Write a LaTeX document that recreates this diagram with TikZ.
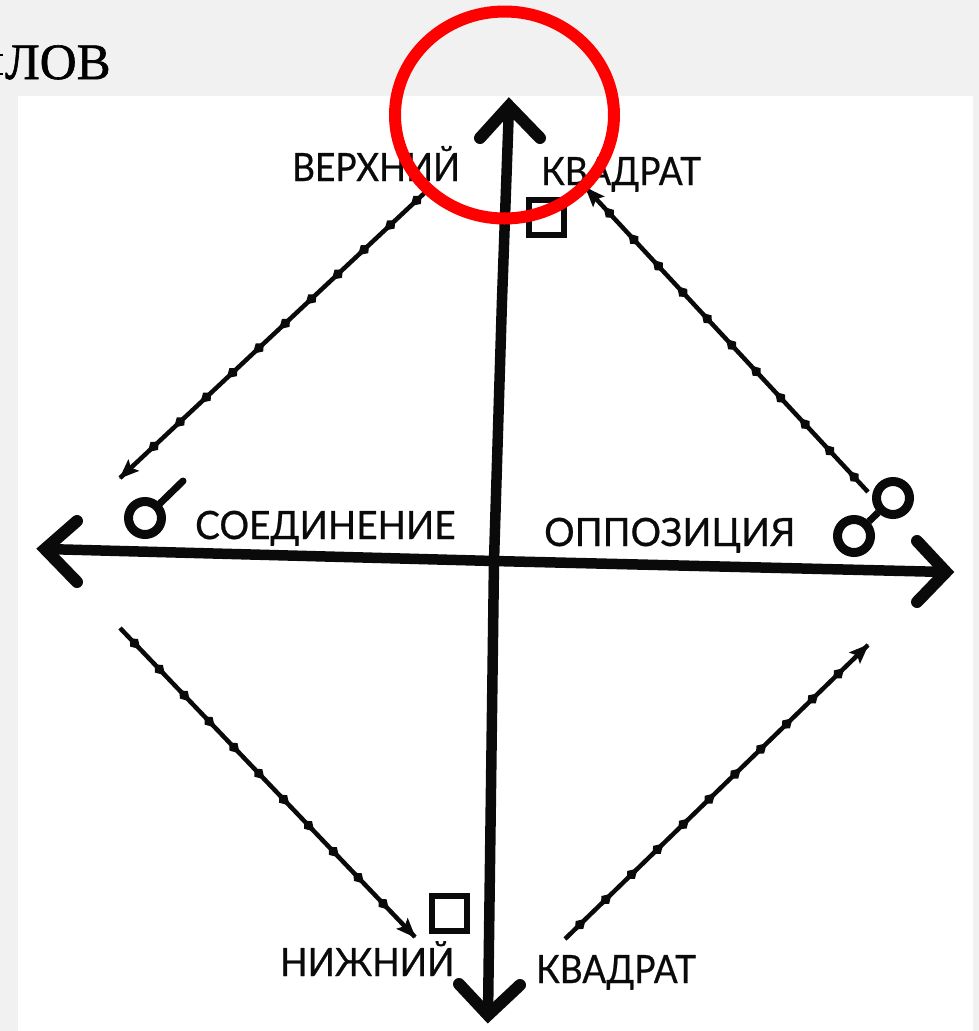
\documentclass[tikz,border=0pt]{standalone}
\usepackage{fontspec}
\setmainfont{Lato}
\newfontfamily\labfont[FakeBold=0.6]{Lato}
\newfontfamily\titlefont[FakeBold=1.2]{Liberation Serif}
\usetikzlibrary{arrows.meta,decorations.markings,shapes.geometric}
\definecolor{pagegray}{HTML}{F1F1F1}
\definecolor{ink}{HTML}{0A0A0A}
\definecolor{ringred}{HTML}{FF0000}
\tikzset{
  x=1pt,y=-1pt,
  axisline/.style={draw=ink,line width=10.5pt},
  arm/.style={draw=ink,line width=12pt,line cap=round,line join=miter},
  flow/.style={draw=ink,line width=4.5pt,postaction={decorate},
    decoration={markings,
      mark=between positions 0.05 and 0.97 step 36pt with {\fill[ink] (8,0) -- (-1,5.5) -- (-7,0) -- (-1,-5.5) -- cycle;},
      mark=at position 1 with {\fill[ink] (1,0) -- (-19,8) -- (-15,0) -- (-19,-8) -- cycle;}}},
  label/.style={font=\labfont\fontsize{39}{39}\selectfont,text=ink,inner sep=0pt,anchor=base west,transform shape},
  glyphring/.style={circle,draw=ink,line width=9pt,minimum size=33pt,inner sep=0pt},
  glyphsq/.style={rectangle,draw=ink,line width=6pt,minimum size=35pt,inner sep=0pt},
}
\begin{document}
\begin{tikzpicture}
\useasboundingbox (0,0) rectangle (979,1031);
\fill[pagegray] (0,0) rectangle (979,1031);
\fill[white] (18,96) rectangle (973,1031);

% title fragment
\fill[black] (0,54) rectangle (2.5,56);
\fill[black] (0,73) rectangle (2.5,75);
\node[font=\titlefont\fontsize{51}{51}\selectfont,text=black,inner sep=0pt,anchor=base west] (title) at (5,79) {ЛОВ};

% axis end points
\coordinate (top) at (509,106);
\coordinate (bot) at (488,1015);
\coordinate (lft) at (45,549);
\coordinate (rgt) at (946,572);
\coordinate (mid) at (494,561);

\draw[axisline] (top) -- (502,300) -- (mid) -- (bot);
\draw[axisline] (lft) -- (mid) -- (rgt);

\coordinate (ta) at (480,138); \coordinate (tb) at (540,138);
\coordinate (la) at (77,521);  \coordinate (lb) at (77,582);
\coordinate (ra) at (917,541); \coordinate (rb) at (917,602);
\coordinate (da) at (459,984); \coordinate (db) at (520,985);
\draw[arm] (ta) -- (top) -- (tb);
\draw[arm] (la) -- (lft) -- (lb);
\draw[arm] (ra) -- (rgt) -- (rb);
\draw[arm] (da) -- (bot) -- (db);

% flow diagonals
\coordinate (d1s) at (432,186); \coordinate (d1e) at (120,478);
\coordinate (d2s) at (120,628); \coordinate (d2e) at (415,937);
\coordinate (d3s) at (565,939); \coordinate (d3e) at (868,645);
\coordinate (d4s) at (868,492); \coordinate (d4e) at (586,188);
\draw[flow] (d1s) -- (d1e);
\draw[flow] (d2s) -- (d2e);
\draw[flow] (d3s) -- (d3e);
\draw[flow] (d4s) -- (d4e);

% aspect glyphs
\node[glyphsq] (sqtop) at (546,217.5) {};
\node[glyphsq] (sqbot) at (449,913) {};
\node[glyphring] (conj) at (145,518) {};
\coordinate (conjend) at (183,481);
\draw[draw=ink,line width=7pt,line cap=round] (conj) -- (conjend);
\node[glyphring] (opp1) at (893,498) {};
\node[glyphring] (opp2) at (854,536) {};
\draw[draw=ink,line width=7pt] (opp1) -- (opp2);

% labels
\node[label,xscale=0.905] (l1) at (292,181) {ВЕРХНИЙ};
\node[label,xscale=0.905] (l2) at (541,185) {КВАДРАТ};
\node[label,xscale=0.95] (l3) at (195,539) {СОЕДИНЕНИЕ};
\node[label,xscale=0.975] (l4) at (544,546) {ОППОЗИЦИЯ};
\node[label,xscale=0.92] (l5) at (280,976) {НИЖНИЙ};
\node[label,xscale=0.905] (l6) at (536,983) {КВАДРАТ};

% highlight ring
\node[ellipse,draw=ringred,line width=12pt,minimum width=219pt,minimum height=207pt,inner sep=0pt] (ring) at (504.5,115) {};
\end{tikzpicture}
\end{document}
